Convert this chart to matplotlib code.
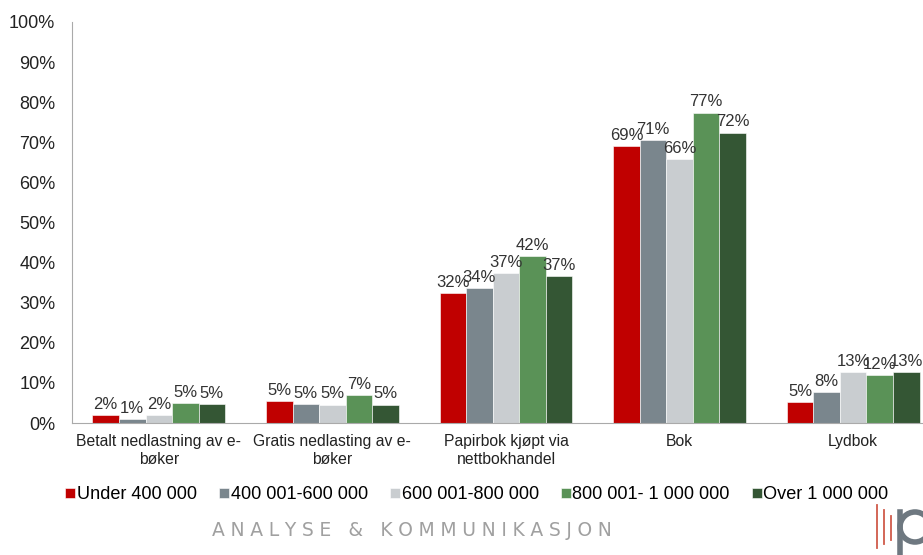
import matplotlib.pyplot as plt
import numpy as np
from matplotlib.patches import Ellipse

plt.rcParams['font.family'] = ['Liberation Sans', 'DejaVu Sans']

categories = ["Betalt nedlastning av e-\nbøker", "Gratis nedlasting av e-\nbøker",
              "Papirbok kjøpt via\nnettbokhandel", "Bok", "Lydbok"]
series = ["Under 400 000", "400 001-600 000", "600 001-800 000",
          "800 001- 1 000 000", "Over 1 000 000"]
under_400 = [2.0, 5.4, 32.4, 69.1, 5.2]
s400_600 = [1.0, 4.8, 33.7, 70.6, 7.8]
s600_800 = [2.0, 4.6, 37.4, 65.8, 12.6]
s800_1000 = [5.0, 7.0, 41.6, 77.4, 12.0]
over_1000 = [4.8, 4.6, 36.7, 72.4, 12.6]
colors = ["#C00000", "#7A868D", "#C9CDD0", "#5A9257", "#345634"]

values = [under_400, s400_600, s600_800, s800_1000, over_1000]

fig = plt.figure(figsize=(9.23, 5.55), dpi=100)
# axes runs a bit past the right edge, like the cropped original
ax = fig.add_axes([72 / 923, 1 - 423 / 555, 868 / 923, 401 / 555])

x = np.arange(len(categories))
w = 0.153
for i, (name, vals) in enumerate(zip(series, values)):
    pos = x + (i - 2) * w
    ax.bar(pos, vals, width=w, color=colors[i], label=name, edgecolor='white', linewidth=0.4)
    for px, v in zip(pos, vals):
        ax.text(px, v + 0.8, f"{v:.0f}%", ha='center', va='bottom', fontsize=12, color='#333333')

ax.set_xlim(-0.5, 4.5)
ax.set_ylim(0, 100)
ax.set_yticks(range(0, 101, 10))
ax.set_yticklabels([f"{t}%" for t in range(0, 101, 10)], fontsize=13, color='#222222')
ax.set_xticks(x)
ax.set_xticklabels(categories, fontsize=11.3, color='#222222')
ax.tick_params(axis='y', length=0, pad=12)
ax.tick_params(axis='x', length=0, pad=8)
for s in ['top', 'right']:
    ax.spines[s].set_visible(False)
ax.spines['left'].set_color('#AAAAAA')
ax.spines['bottom'].set_color('#AAAAAA')

ax.legend(loc='upper left', bbox_to_anchor=(-14 / 868, -0.14), ncol=5, frameon=False,
          fontsize=13.1, handlelength=0.55, handleheight=0.55, handletextpad=0.1,
          columnspacing=1.2, borderaxespad=0)

# footer text with wide letter spacing
footer = "ANALYSE & KOMMUNIKASJON"
footer = "\u2009\u200a".join(footer)
fig.text(412 / 923, 1 - 531 / 555, footer, ha='center', va='center',
         fontsize=13.5, color='#A0A0A0', family=['DejaVu Sans'])

# logo fragment at bottom right, drawn as shapes
lax = fig.add_axes([860 / 923, 0, 80 / 923, 60 / 555])
lax.set_xlim(860, 940)
lax.set_ylim(555, 495)
lax.axis('off')
for lx, y0, y1 in [(877, 505, 548), (884, 510, 544), (891, 516, 540)]:
    lax.plot([lx, lx], [y0, y1], color='#D05A4A', lw=1.3)
lax.plot([900, 900], [512, 560], color='#6E7880', lw=4, clip_on=False)
lax.add_patch(Ellipse((915, 527), 30, 30, fill=False, edgecolor='#6E7880', lw=4))

fig.savefig("out.png", dpi=100)
